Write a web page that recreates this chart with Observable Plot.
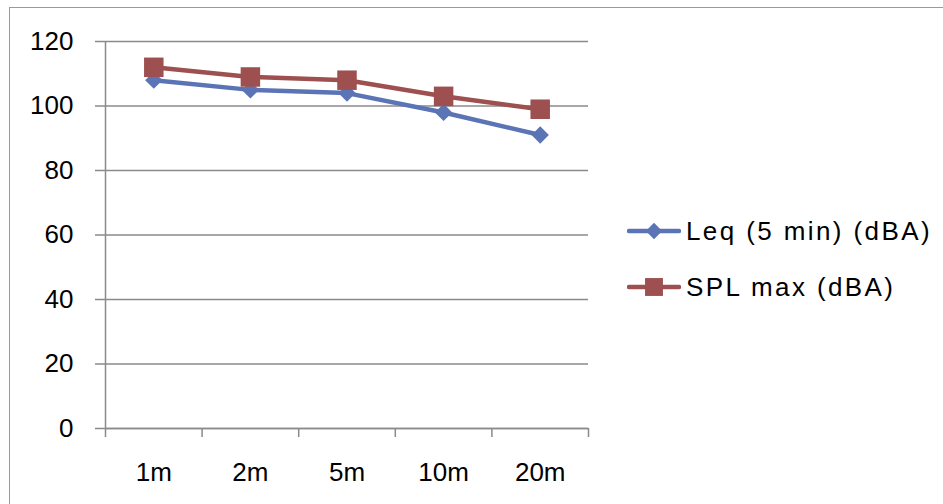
<!DOCTYPE html>
<html>
<head>
<meta charset="utf-8">
<script src="https://cdn.jsdelivr.net/npm/d3@7"></script>
<script src="https://cdn.jsdelivr.net/npm/@observablehq/plot@0.6"></script>
<style>
  html, body { margin: 0; padding: 0; background: #fff; }
  body { width: 943px; height: 504px; overflow: hidden; position: relative; font-family: "Liberation Sans", Arial, sans-serif; }
  #frame { position: absolute; left: 9px; top: 7px; width: 940px; height: 510px; border: 1.5px solid #9a9a9a; box-sizing: border-box; }
  #chart { position: absolute; left: 0; top: 0; }
  #legend { position: absolute; left: 627px; top: 212px; font-size: 26px; letter-spacing: 2.4px; color: #000; }
  .item { display: flex; align-items: center; height: 38px; margin-bottom: 18px; white-space: nowrap; }
  .item svg { margin-right: 5px; flex: none; }
</style>
</head>
<body>
<div id="frame"></div>
<div id="chart"></div>
<div id="legend"></div>
<script>
const categories = ["1m", "2m", "5m", "10m", "20m"];
const leq = [108, 105, 104, 98, 91];
const splMax = [112, 109, 108, 103, 99];
const seriesNames = ["Leq (5 min) (dBA)", "SPL max (dBA)"];
const seriesColors = ["#5a74b6", "#9e4f4f"];
const yTicks = [0, 20, 40, 60, 80, 100, 120];

const data = [];
categories.forEach((c, i) => {
  data.push({cat: c, i, series: seriesNames[0], value: leq[i]});
  data.push({cat: c, i, series: seriesNames[1], value: splMax[i]});
});
const s0 = data.filter(d => d.series === seriesNames[0]);
const s1 = data.filter(d => d.series === seriesNames[1]);

const gray = "#8a8a8a";
const font = "'Liberation Sans', Arial, sans-serif";
const chart = Plot.plot({
  width: 943,
  height: 504,
  marginLeft: 105,
  marginRight: 355,
  marginTop: 41,
  marginBottom: 76,
  style: { fontFamily: font, fontSize: "26px", background: "transparent", overflow: "visible" },
  x: { type: "linear", domain: [0, categories.length], axis: null, label: null },
  y: { domain: [0, 120], axis: null, label: null },
  marks: [
    Plot.gridY(yTicks, { stroke: gray, strokeOpacity: 1, strokeWidth: 1.5 }),
    Plot.axisY(yTicks, { anchor: "left", label: null, tickSize: 10, tickPadding: 22, stroke: gray, strokeWidth: 1.5, fill: "#000", fontSize: 26, tickFormat: d => d }),
    Plot.ruleX([0], { stroke: gray, strokeWidth: 1.5 }),
    Plot.ruleY([0], { stroke: gray, strokeWidth: 1.5 }),
    Plot.axisX(d3.range(categories.length + 1), { anchor: "bottom", label: null, tickSize: 9, stroke: gray, strokeWidth: 1.5, tickFormat: () => "" }),
    Plot.axisX(categories.map((c, i) => i + 0.5), { anchor: "bottom", label: null, tickSize: 0, tickPadding: 34, fill: "#000", fontSize: 26, tickFormat: v => categories[Math.round(v - 0.5)] }),
    Plot.line(s0, { x: d => d.i + 0.5, y: "value", stroke: seriesColors[0], strokeWidth: 4.5 }),
    Plot.line(s1, { x: d => d.i + 0.5, y: "value", stroke: seriesColors[1], strokeWidth: 4.5 }),
    Plot.dot(s0, { x: d => d.i + 0.5, y: "value", symbol: "diamond2", r: 7.8, fill: seriesColors[0], stroke: "none" }),
    Plot.dot(s1, { x: d => d.i + 0.5, y: "value", symbol: "square", r: 11, fill: seriesColors[1], stroke: "none" })
  ]
});
document.getElementById("chart").appendChild(chart);

// Legend
const legend = document.getElementById("legend");
seriesNames.forEach((name, k) => {
  const item = document.createElement("div");
  item.className = "item";
  const ns = "http://www.w3.org/2000/svg";
  const svg = document.createElementNS(ns, "svg");
  svg.setAttribute("width", 54); svg.setAttribute("height", 24);
  const line = document.createElementNS(ns, "line");
  line.setAttribute("x1", 2); line.setAttribute("x2", 52); line.setAttribute("y1", 12); line.setAttribute("y2", 12);
  line.setAttribute("stroke", seriesColors[k]); line.setAttribute("stroke-width", 4.5); line.setAttribute("stroke-linecap", "round");
  svg.appendChild(line);
  const m = document.createElementNS(ns, "path");
  m.setAttribute("transform", "translate(27,12)");
  m.setAttribute("d", d3.symbol(k === 0 ? d3.symbolDiamond2 : d3.symbolSquare, k === 0 ? 170 : 320)());
  m.setAttribute("fill", seriesColors[k]);
  svg.appendChild(m);
  item.appendChild(svg);
  const t = document.createElement("span");
  t.textContent = name;
  item.appendChild(t);
  legend.appendChild(item);
});
</script>
</body>
</html>
